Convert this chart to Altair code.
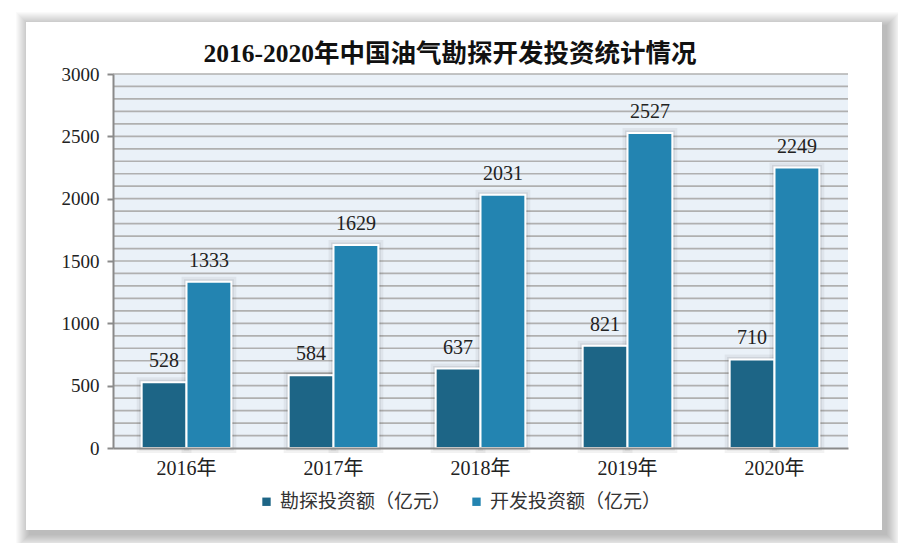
import altair as alt
import pandas as pd

years = ["2016年", "2017年", "2018年", "2019年", "2020年"]
series = ["勘探投资额（亿元）", "开发投资额（亿元）"]
explore = [528, 584, 637, 821, 710]
develop = [1333, 1629, 2031, 2527, 2249]
colors = ["#1d6586", "#2384b1"]
grid_vals = list(range(100, 3001, 100))
y_ticks = [0, 500, 1000, 1500, 2000, 2500, 3000]
title_text = "2016-2020年中国油气勘探开发投资统计情况"

rows = []
for y, a, b in zip(years, explore, develop):
    rows.append({"year": y, "type": series[0], "value": a})
    rows.append({"year": y, "type": series[1], "value": b})
df = pd.DataFrame(rows)

W, H = 735, 374
SERIF = "Liberation Serif, Noto Sans CJK SC"
CJK = "Noto Sans CJK SC"

one = alt.Data(values=[{"a": 1}])

# panel shadow
shadow_layers = []
for i in range(14, 0, -1):
    shadow_layers.append(
        alt.Chart(one).mark_rect(color="#000", opacity=0.018).encode(
            x=alt.value(-87 - i + 4), x2=alt.value(769 + i + 4),
            y=alt.value(-52 - i + 4), y2=alt.value(456 + i + 4),
        )
    )
panel = alt.Chart(one).mark_rect(color="#ffffff").encode(
    x=alt.value(-87), x2=alt.value(769), y=alt.value(-52), y2=alt.value(456)
)
plotbg = alt.Chart(one).mark_rect(color="#eaf1f8").encode(
    x=alt.value(0), x2=alt.value(W), y=alt.value(0), y2=alt.value(H)
)
title = alt.Chart(pd.DataFrame({"t": [title_text]})).mark_text(
    fontSize=25.5, font=SERIF, fontWeight="bold", color="#111",
    align="center", baseline="alphabetic",
).encode(text="t:N", x=alt.value(337), y=alt.value(-12))

yscale = alt.Scale(domain=[0, 3000], nice=False)
yaxis = alt.Axis(
    values=y_ticks, format="d", grid=False, tickSize=6, tickColor="#8a8a8a",
    tickWidth=2, domainColor="#8a8a8a", domainWidth=2, labelPadding=8,
    labelFontSize=19, labelFont=SERIF, labelColor="#222", zindex=1,
)

grid = alt.Chart(pd.DataFrame({"value": grid_vals})).mark_rule(
    color="#b0b0b0", strokeWidth=1.7
).encode(
    y=alt.Y("value:Q", scale=yscale, axis=yaxis, title=None),
    x=alt.value(0), x2=alt.value(W),
)

xenc = alt.X(
    "year:N", sort=years, title=None,
    scale=alt.Scale(paddingInner=0.39, paddingOuter=0.195),
    axis=alt.Axis(
        labelAngle=0, ticks=False, labelPadding=10, labelFontSize=20,
        labelFont=SERIF, labelColor="#222", domainColor="#8a8a8a",
        domainWidth=2, zindex=1,
    ),
)
yenc = alt.Y("value:Q", scale=yscale, title=None, axis=yaxis)
xoff = alt.XOffset("type:N", sort=series, scale=alt.Scale(domain=series, paddingInner=0, paddingOuter=0))

base = alt.Chart(df)

glow1 = base.mark_bar(fill="#000", fillOpacity=0, stroke="#000", strokeOpacity=0.05, strokeWidth=10).encode(
    x=xenc, xOffset=xoff, y=yenc
)
glow2 = base.mark_bar(fill="#000", fillOpacity=0, stroke="#000", strokeOpacity=0.07, strokeWidth=5).encode(
    x=xenc, xOffset=xoff, y=yenc
)
bars = base.mark_bar(stroke="#ffffff", strokeWidth=2).encode(
    x=xenc, xOffset=xoff, y=yenc,
    color=alt.Color(
        "type:N", sort=series,
        scale=alt.Scale(domain=series, range=colors),
        legend=alt.Legend(
            title=None, orient="none", direction="horizontal",
            legendX=144, legendY=418, symbolType="square", symbolSize=70,
            symbolStrokeWidth=0, labelFont=CJK, labelFontSize=19,
            labelColor="#333", labelOffset=4, columnPadding=15, padding=0,
            labelLimit=400,
        ),
    ),
)
labels = base.mark_text(
    baseline="alphabetic", dy=-15, fontSize=20, font=SERIF, color="#222"
).encode(
    x=xenc, xOffset=xoff, y=yenc, text=alt.Text("value:Q")
)

chart = alt.layer(
    *shadow_layers, panel, plotbg, title, grid, glow1, glow2, bars, labels
).properties(
    width=W, height=H,
    autosize=alt.AutoSizeParams(type="none"),
    padding={"left": 105, "top": 66, "right": 50, "bottom": 95},
    background="#ffffff",
).configure_view(stroke=None)

chart.save("out.html", embed_options={"renderer": "svg", "actions": False})
